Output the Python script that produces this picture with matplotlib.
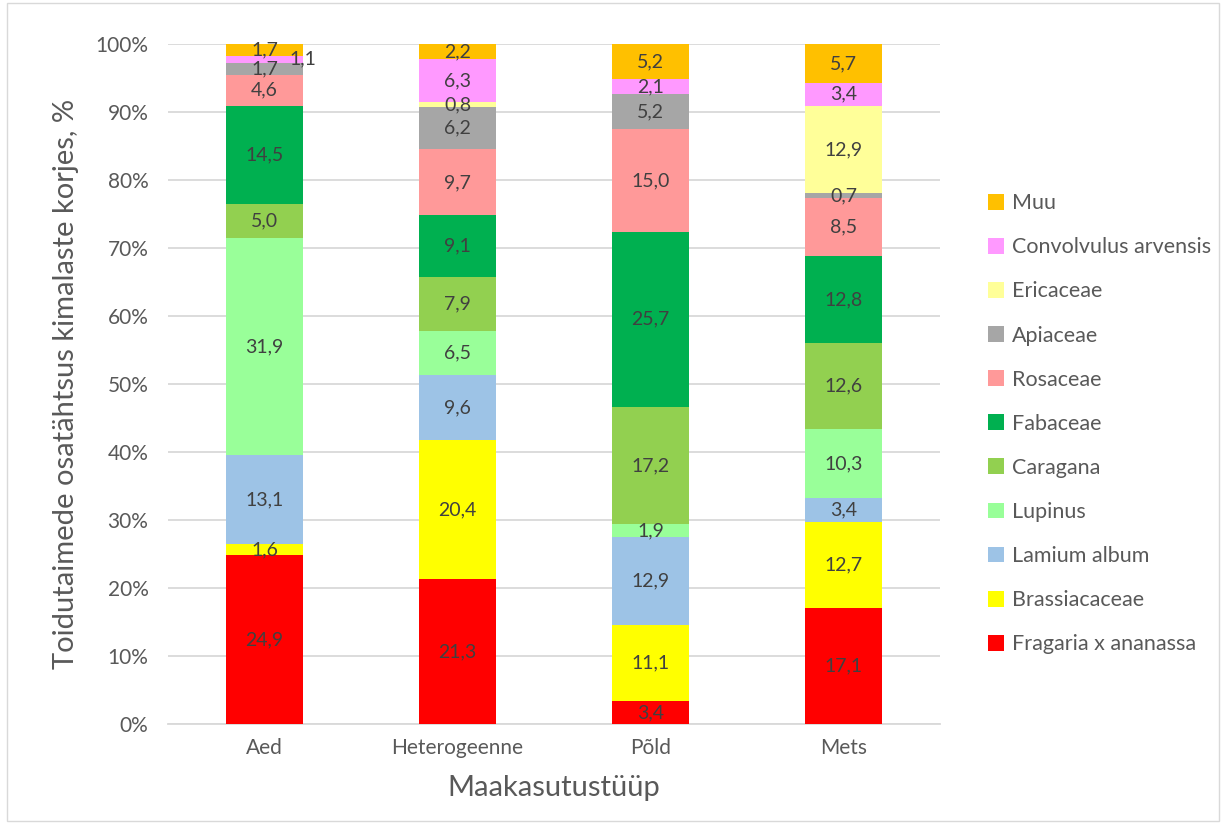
import matplotlib
matplotlib.use("Agg")
import matplotlib.pyplot as plt
import numpy as np
from matplotlib.patches import Rectangle

plt.rcParams["font.family"] = ["Lato", "DejaVu Sans"]

# Land-use types and pollen-plant shares (%) per taxon, bottom to top
CATEGORIES = ["Aed", "Heterogeenne", "Põld", "Mets"]
TAXA = ["Fragaria x ananassa", "Brassiacaceae", "Lamium album", "Lupinus",
        "Caragana", "Fabaceae", "Rosaceae", "Apiaceae", "Ericaceae",
        "Convolvulus arvensis", "Muu"]
FRAGARIA = [24.9, 21.3, 3.4, 17.1]
BRASSICACEAE = [1.6, 20.4, 11.1, 12.7]
LAMIUM = [13.1, 9.6, 12.9, 3.4]
LUPINUS = [31.9, 6.5, 1.9, 10.3]
CARAGANA = [5.0, 7.9, 17.2, 12.6]
FABACEAE = [14.5, 9.1, 25.7, 12.8]
ROSACEAE = [4.6, 9.7, 15.0, 8.5]
APIACEAE = [1.7, 6.2, 5.2, 0.7]
ERICACEAE = [0.0, 0.8, 0.0, 12.9]
CONVOLVULUS = [1.1, 6.3, 2.1, 3.4]
MUU = [1.7, 2.2, 5.2, 5.7]
SERIES = [FRAGARIA, BRASSICACEAE, LAMIUM, LUPINUS, CARAGANA, FABACEAE,
          ROSACEAE, APIACEAE, ERICACEAE, CONVOLVULUS, MUU]
COLORS = ["#FF0000", "#FFFF00", "#9DC3E6", "#99FF99", "#92D050", "#00B050",
          "#FF9999", "#A6A6A6", "#FFFF99", "#FF99FF", "#FFC000"]

TEXT = "#404040"
AXIS_TEXT = "#595959"

fig = plt.figure(figsize=(12.26, 8.26), dpi=100)
ax = fig.add_axes([0.137, 0.1235, 0.63, 0.8232])

# 100 % stacked: each column is scaled by its own total
totals = np.sum(np.array(SERIES), axis=0)
scale = 100.0 / totals

x = np.arange(len(CATEGORIES))
bottom = np.zeros(len(CATEGORIES))
handles = []
for name, vals, col in zip(TAXA, SERIES, COLORS):
    vals = np.array(vals)
    h = vals * scale
    bars = ax.bar(x, h, 0.40, bottom=bottom, color=col, label=name,
                  zorder=3, linewidth=0)
    handles.append(bars)
    for i, v in enumerate(vals):
        if v <= 0:
            continue
        # small Convolvulus slice in the garden bar gets its label nudged right
        dx = 28 if (name == "Convolvulus arvensis" and i == 0) else 0
        ax.annotate(f"{v:.1f}".replace(".", ","), (x[i], bottom[i] + h[i] / 2),
                    xytext=(dx, 0), textcoords="offset points",
                    ha="center", va="center", fontsize=14, color=TEXT, zorder=4)
    bottom += h

ax.set_xlim(-0.5, len(CATEGORIES) - 0.5)
ax.set_ylim(0, 100)
ax.set_yticks(np.arange(0, 101, 10))
ax.set_yticklabels([f"{t}%" for t in range(0, 101, 10)])
ax.set_xticks(x)
ax.set_xticklabels(CATEGORIES)
ax.tick_params(axis="both", length=0, labelsize=15, labelcolor=AXIS_TEXT)
ax.tick_params(axis="y", pad=14)
ax.tick_params(axis="x", pad=10)
ax.grid(axis="y", color="#D9D9D9", linewidth=1.3, zorder=0)
for side in ("top", "right", "left"):
    ax.spines[side].set_visible(False)
ax.spines["bottom"].set_color("#D9D9D9")
ax.spines["bottom"].set_linewidth(1.3)

ax.set_ylabel("Toidutaimede osatähtsus kimalaste korjes, %", fontsize=21,
              color=AXIS_TEXT, labelpad=12)
ax.set_xlabel("Maakasutustüüp", fontsize=21, color=AXIS_TEXT, labelpad=12)

fig.legend(handles[::-1], TAXA[::-1], loc="center left",
           bbox_to_anchor=(0.79, 0.487), frameon=False, fontsize=15.5,
           labelcolor=AXIS_TEXT, handlelength=0.75, handleheight=0.75,
           handletextpad=0.35, labelspacing=1.12)

fig.patches.append(Rectangle((0.006, 0.006), 0.988, 0.99, transform=fig.transFigure,
                             fill=False, edgecolor="#D9D9D9", linewidth=1))

fig.savefig("out.png", dpi=100)
